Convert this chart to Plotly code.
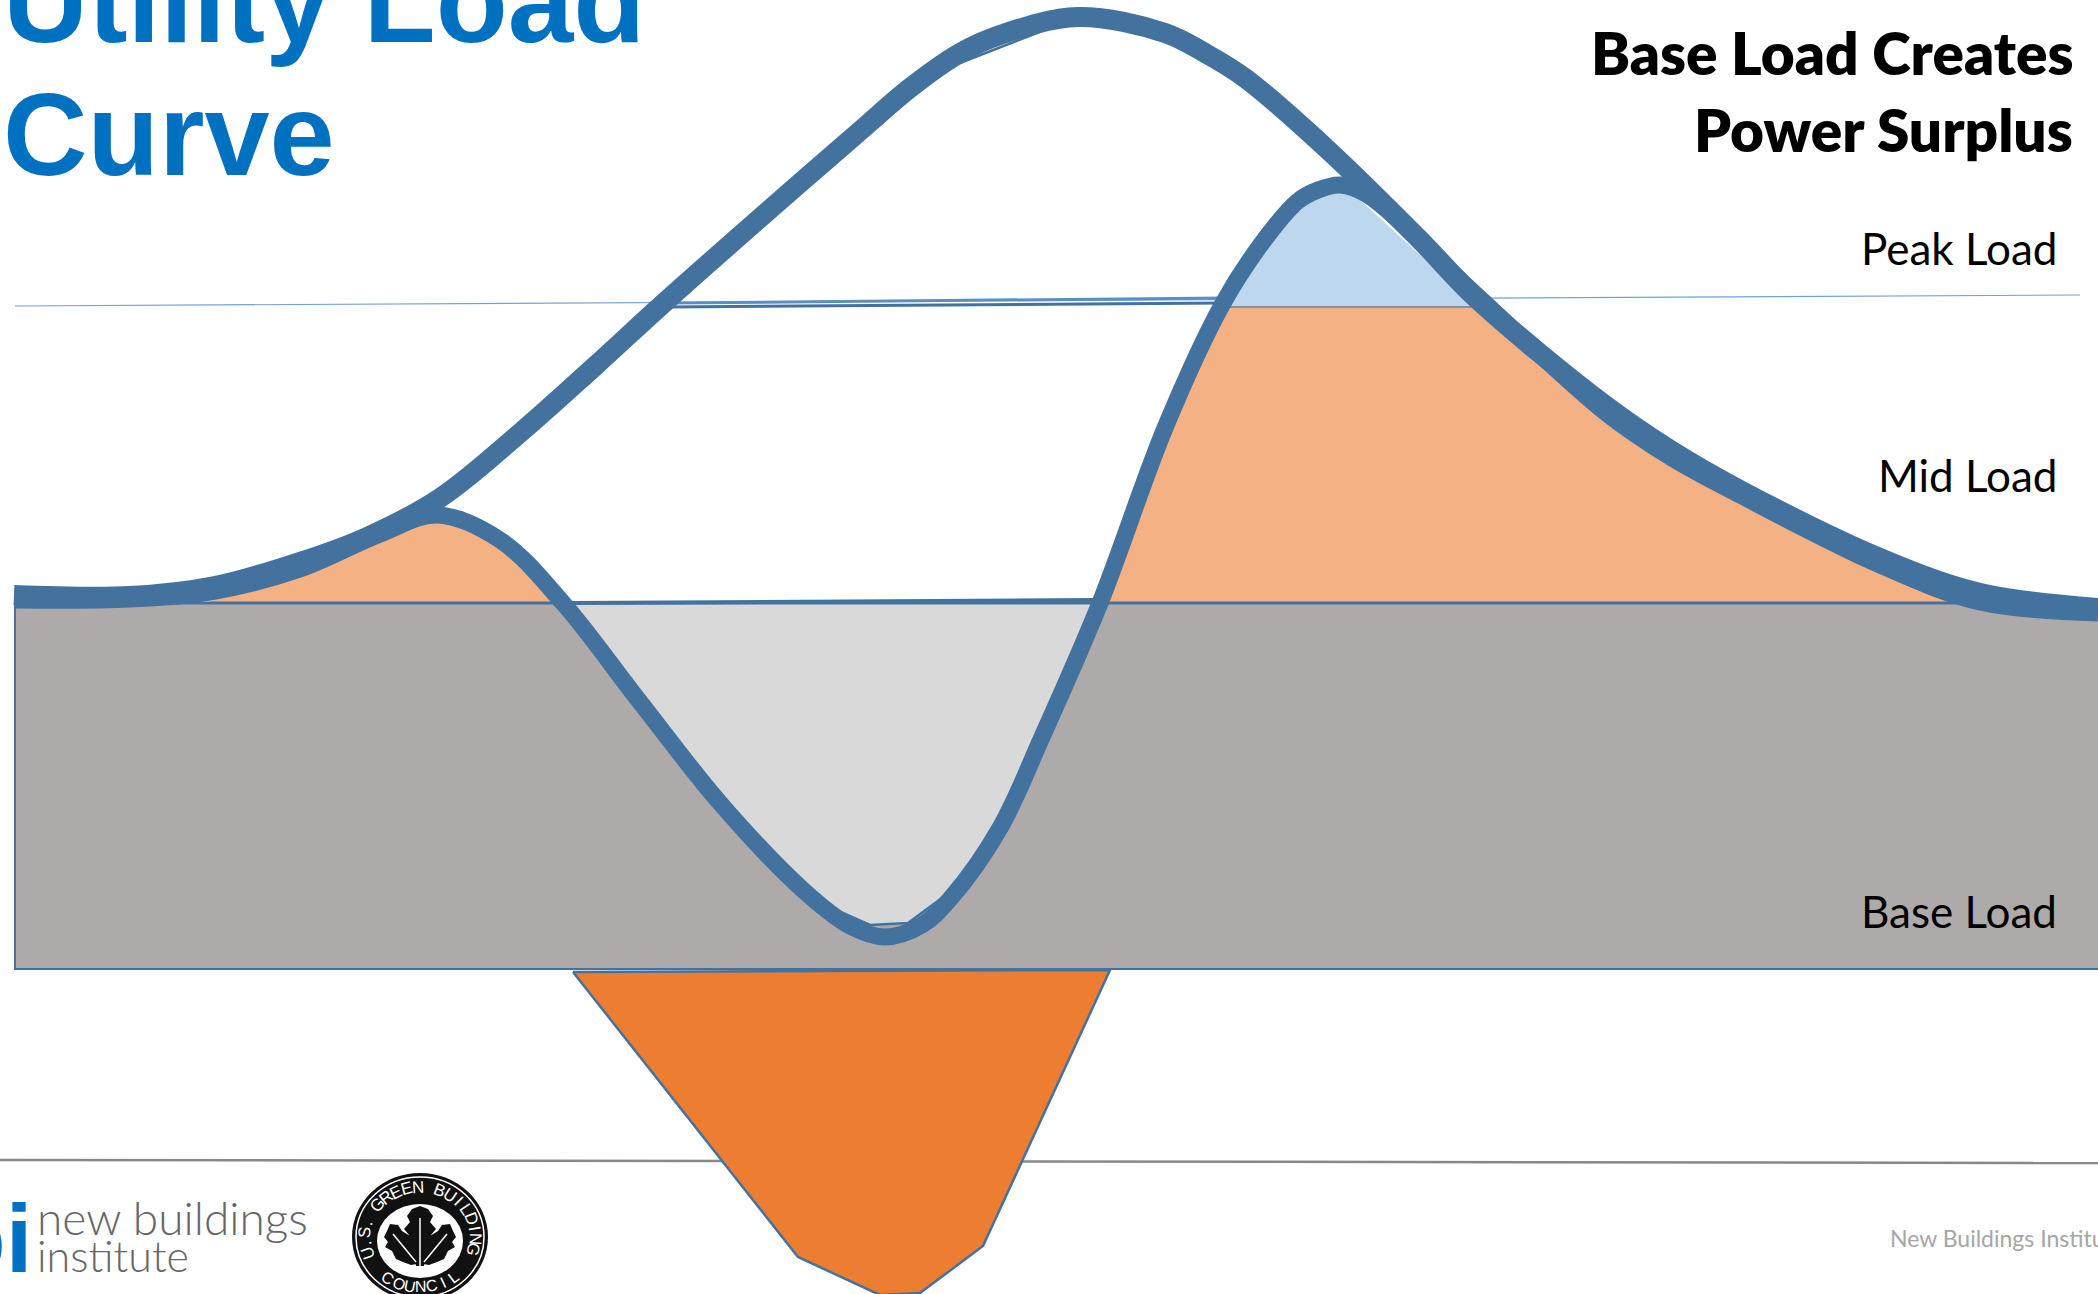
import math
import plotly.graph_objects as go

# Load curves, in diagram units (one unit per screen pixel, y grows downward)
demand_x = [14, 130, 215, 300, 367, 440, 520, 594, 665, 800, 860, 910, 960, 1000, 1078, 1165, 1205, 1245, 1328, 1420, 1478, 1605, 1672, 1740, 1880, 1980, 2098]
demand_y = [595, 596, 586, 562, 537, 498, 433, 367, 302, 183, 131, 88, 53, 35, 17, 33, 53, 78, 150, 240, 300, 405, 451, 490, 558, 593, 608]
net_x = [14, 130, 210, 300, 380, 437, 500, 563, 640, 720, 803, 850, 885, 922, 950, 1000, 1042, 1100, 1165, 1222, 1262, 1298, 1318, 1340, 1366, 1473, 1605, 1672, 1740, 1880, 1980, 2098]
net_y = [600, 599, 592, 569, 534, 515, 540, 603, 702, 803, 890, 926, 937, 925, 899, 828, 737, 603, 428, 305, 243, 201, 190, 185, 194, 292, 412, 458, 495, 565, 602, 613]

# Filled regions of the load stack
base_x = [15, 2110, 2110, 15, 15]
base_y = [603, 603, 969, 969, 603]
hump_x = [205, 268, 300, 380, 437, 500, 563]
hump_y = [603, 580, 569, 534, 515, 540, 603]
valley_x = [563, 640, 720, 803, 818, 870, 908, 950, 1000, 1042, 1100]
valley_y = [603, 702, 803, 890, 902, 925, 923, 892, 828, 737, 603]
mid_x = [1100, 1165, 1200, 1222, 1480, 1537, 1605, 1740, 1880, 1975, 1100]
mid_y = [603, 428, 350, 307, 307, 352, 412, 495, 565, 603, 603]
peak_x = [1222, 1262, 1298, 1340, 1360, 1467, 1490, 1222]
peak_y = [307, 243, 201, 185, 200, 298, 307, 307]
storage_x = [573, 1110, 983, 920, 880, 798, 573]
storage_y = [972, 970, 1246, 1293, 1295, 1257, 972]

# Thin guide lines and outline chords
peak_line_x = [15, 2080]
peak_line_y = [306, 295]
peak_upper_x = [668, 1225]
peak_upper_y = [303, 298]
peak_lower_x = [668, 1225]
peak_lower_y = [307, 303]
shelf_x = [1222, 1480]
shelf_y = [307, 307]
base_top_x = [15, 2098]
base_top_y = [603, 603]
base_band_x = [570, 1095]
base_band_y = [603, 600]
chord_low_x = [757, 910]
chord_low_y = [227, 95]
chord_high_x = [960, 1050]
chord_high_y = [63, 28]
valley_edge_x = [818, 870, 908, 950]
valley_edge_y = [902, 925, 923, 892]
footer_x = [0, 2098]
footer_y = [1160, 1163]

BLUE = "#44729F"


def area(x, y, color, line=0, line_color=BLUE):
    return go.Scatter(x=x, y=y, mode="lines", fill="toself", fillcolor=color,
                      line=dict(color=line_color if line else color, width=line),
                      hoverinfo="skip", showlegend=False)


def stroke(x, y, color=BLUE, width=16, shape="linear"):
    return go.Scatter(x=x, y=y, mode="lines",
                      line=dict(color=color, width=width, shape=shape, smoothing=1.0),
                      hoverinfo="skip", showlegend=False)


fig = go.Figure()
fig.add_trace(stroke(footer_x, footer_y, "#888888", 2.5))
fig.add_trace(stroke(peak_line_x, peak_line_y, "#6FA3D8", 1.2))
fig.add_trace(area(storage_x, storage_y, "#ED7D31", 2.5))
fig.add_trace(area(base_x, base_y, "#AEAAAA", 2))
fig.add_trace(area(valley_x, valley_y, "#D9D9D9"))
fig.add_trace(area(hump_x, hump_y, "#F4B183"))
fig.add_trace(area(mid_x, mid_y, "#F4B183"))
fig.add_trace(area(peak_x, peak_y, "#BDD7EE"))
fig.add_trace(stroke(base_top_x, base_top_y, BLUE, 3))
fig.add_trace(stroke(base_band_x, base_band_y, BLUE, 4))
fig.add_trace(stroke(peak_upper_x, peak_upper_y, "#5B8FC4", 3))
fig.add_trace(stroke(peak_lower_x, peak_lower_y, BLUE, 3))
fig.add_trace(stroke(shelf_x, shelf_y, "#7C93AC", 2))
fig.add_trace(stroke(chord_low_x, chord_low_y, BLUE, 2.5))
fig.add_trace(stroke(chord_high_x, chord_high_y, BLUE, 2.5))
fig.add_trace(stroke(valley_edge_x, valley_edge_y, BLUE, 2.5))
fig.add_trace(stroke(demand_x, demand_y, width=20, shape="spline"))
fig.add_trace(stroke(net_x, net_y, width=17, shape="spline"))

# Council emblem: three leaves on a ringed seal
cx, cy = 420, 1237
leaf_mid_x = [420, 428, 433, 430, 436, 431, 435, 426, 424, 416, 414, 405, 409, 404, 410, 407, 412, 420]
leaf_mid_y = [1206, 1209, 1216, 1222, 1229, 1235, 1243, 1250, 1266, 1266, 1250, 1243, 1235, 1229, 1222, 1216, 1209, 1206]
leaf_left_x = [390, 398, 402, 410, 411, 416, 417, 411, 403, 396, 392, 385, 388, 384, 387, 390]
leaf_left_y = [1224, 1225, 1231, 1236, 1245, 1252, 1264, 1265, 1262, 1259, 1251, 1247, 1242, 1237, 1231, 1224]
leaf_right_x = [840 - v for v in leaf_left_x]
for lx, ly in ((leaf_mid_x, leaf_mid_y), (leaf_left_x, leaf_left_y), (leaf_right_x, leaf_left_y)):
    fig.add_trace(area(lx, ly, "#111111"))
fig.add_trace(stroke([420, 420], [1218, 1266], "#FFFFFF", 1.5))
fig.add_trace(stroke([393, 416], [1234, 1262], "#FFFFFF", 1.5))
fig.add_trace(stroke([447, 424], [1234, 1262], "#FFFFFF", 1.5))


def disc(rx, ry, fill, line_color=None, line_width=0, y=cy, x=cx):
    return dict(type="circle", xref="x", yref="y", layer="below",
                x0=x - rx, x1=x + rx, y0=y - ry, y1=y + ry, fillcolor=fill,
                line=dict(color=line_color or fill, width=line_width))


shapes = [disc(68, 64, "#111111"), disc(64, 60, "#111111", "#FFFFFF", 1.5),
          disc(43, 37, "#FFFFFF", y=1241)]

annotations = []


def label(text, x, y, size, color="#000000", anchor="left", family="Lato", weight="normal", angle=0):
    annotations.append(dict(text=text, x=x, y=y, xref="x", yref="y", showarrow=False,
                            xanchor=anchor, yanchor="middle", textangle=angle,
                            font=dict(family=family, size=size, color=color, weight=weight)))


label("Utility Load", 1, 1, 118, "#0070C0", family="Liberation Sans", weight="bold")
label("Curve", 1, 134, 117, "#0070C0", family="Liberation Sans", weight="bold")
label("Base Load Creates", 2075, 52, 58.5, weight=800, anchor="right")
label("Power Surplus", 2075, 129, 58.5, weight=800, anchor="right")
label("Peak Load", 2059, 248, 44, anchor="right")
label("Mid Load", 2059, 475, 44, anchor="right")
label("Base Load", 2059, 911, 44, anchor="right")
label("New Buildings Institute", 1888, 1238, 23, "#A6A6A6")
label("bi", 34, 1238, 96, "#0070C0", family="Liberation Sans", weight="bold", anchor="right")
label("new buildings", 35, 1217, 46, "#666666", family="Lato Light", weight=300)
label("institute", 35, 1255, 43, "#666666", family="Lato Light", weight=300)

top_text = "U.S. GREEN BUILDING"
for i, ch in enumerate(top_text):
    theta = -109 + i * 213 / (len(top_text) - 1)
    t = math.radians(theta)
    label(ch, cx + 55 * math.sin(t), cy - 50 * math.cos(t), 17, "#FFFFFF", anchor="center",
          family="Liberation Sans", angle=theta)
bottom_text = "COUNCIL"
for i, ch in enumerate(bottom_text):
    theta = 215 - i * 72 / (len(bottom_text) - 1)
    t = math.radians(theta)
    label(ch, cx + 55 * math.sin(t), cy + 1 - 49 * math.cos(t), 16, "#FFFFFF", anchor="center",
          family="Liberation Sans", angle=theta - 180)

fig.update_layout(
    width=2098, height=1294, autosize=False,
    margin=dict(l=0, r=0, t=0, b=0),
    paper_bgcolor="#FFFFFF", plot_bgcolor="#FFFFFF",
    showlegend=False, shapes=shapes, annotations=annotations,
    xaxis=dict(range=[0, 2098], visible=False, fixedrange=True),
    yaxis=dict(range=[1294, 0], visible=False, fixedrange=True),
)
fig.write_html("out.html", config={"displayModeBar": False})
